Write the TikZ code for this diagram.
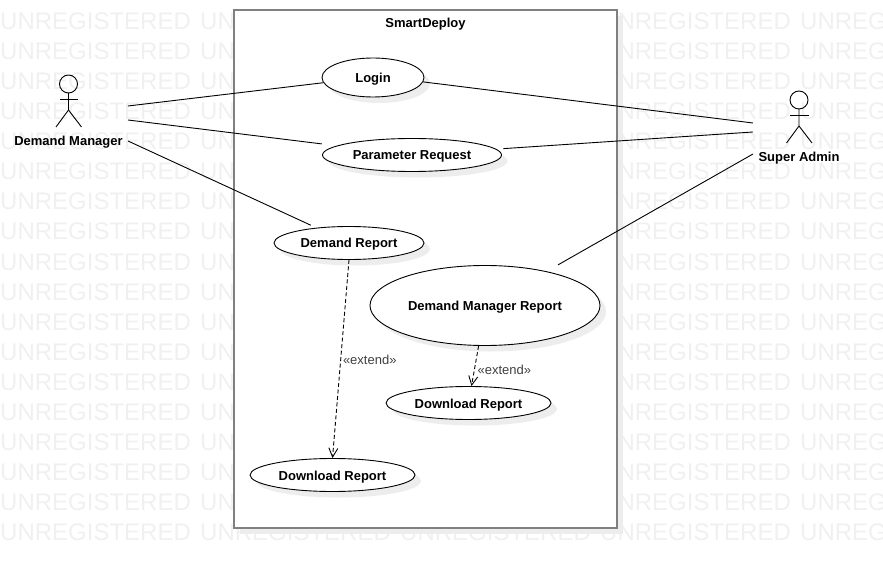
\documentclass[tikz,border=0pt]{standalone}
\usepackage{fontspec}
\setmainfont{Liberation Sans}
\usetikzlibrary{shapes.geometric,shadows,arrows.meta}

\definecolor{wmgray}{HTML}{F0F0F0}
\definecolor{shadowgray}{HTML}{EDEDED}
\definecolor{boxgray}{HTML}{808080}
\definecolor{stereogray}{HTML}{404040}

\tikzset{
  >={Straight Barb[length=9pt,width=9pt]},
  softshadow/.style={drop shadow={shadow xshift=6pt,shadow yshift=-6pt,fill=shadowgray,opacity=1}},
  watermark/.style={anchor=base west,inner sep=0pt,text=wmgray,font=\fontsize{24}{28}\selectfont},
  sysbox/.style={draw=boxgray,line width=2pt,fill=white,rectangle,softshadow,minimum width=383pt,minimum height=518pt},
  usecase/.style={draw,line width=.9pt,fill=white,ellipse,softshadow,inner sep=0pt,text height=10pt,text depth=0pt,font=\fontsize{13}{15}\selectfont\bfseries},
  actorname/.style={inner sep=0pt,text height=10pt,text depth=0pt,font=\fontsize{13}{15}\selectfont\bfseries},
  stereo/.style={inner sep=0pt,text=stereogray,text height=10pt,text depth=0pt,font=\fontsize{13}{15}\selectfont},
  assoc/.style={line width=.9pt},
  ext/.style={->,line width=.9pt,dash pattern=on 4pt off 2.5pt},
  actor/.pic={
    \draw[line width=.9pt] (0,0) circle (9);
    \draw[line width=.9pt] (0,9) -- (0,26) -- (-12.5,43);
    \draw[line width=.9pt] (0,26) -- (13,43);
    \draw[line width=.9pt] (-9,15) -- (9.5,15);
  }
}

\begin{document}
\begin{tikzpicture}[x=1pt,y=-1pt]
\useasboundingbox (0,0) rectangle (883,569);

\foreach \r in {0,...,17}
  \foreach \c in {0,...,4}
    \node[watermark] (wm\r\c) at (200*\c,30+30*\r) {UNREGISTERED};

\node[sysbox] (system) at (425.5,269) {};
\node[actorname] (title) at (425.5,23) {SmartDeploy};

\pic at (68.5,84) {actor};
\node[actorname] (manager) at (68.5,141) {Demand Manager};
\pic at (799,100) {actor};
\node[actorname] (admin) at (799,157) {Super Admin};

\coordinate (m1) at (128,106);
\coordinate (m2) at (128,120);
\coordinate (m3) at (128,141);
\coordinate (a1) at (753,123);
\coordinate (a2) at (753,132);
\coordinate (a3) at (753,154);

\node[usecase,minimum width=102pt,minimum height=39pt] (login) at (373,77.5) {Login};
\node[usecase,minimum width=179pt,minimum height=33pt] (param) at (412,155) {Parameter Request};
\node[usecase,minimum width=150pt,minimum height=33pt] (demand) at (349,243) {Demand Report};
\node[usecase,minimum width=230pt,minimum height=80pt] (dmreport) at (485,305.5) {Demand Manager Report};
\node[usecase,minimum width=165pt,minimum height=33pt] (dlright) at (468.5,403) {Download Report};
\node[usecase,minimum width=165pt,minimum height=33pt] (dlleft) at (332.5,475) {Download Report};

\draw[assoc] (m1) -- (login.186);
\draw[assoc,shorten >=15pt] (m2) -- (param.173);
\draw[assoc,shorten >=6pt] (m3) -- (demand.155);

\draw[assoc] (a1) -- (login.355);
\draw[assoc,shorten >=7pt] (a2) -- (param.4);
\draw[assoc,shorten >=13pt] (a3) -- (dmreport.29);

\draw[ext] (demand.south) -- (dlleft.north) node[stereo,pos=.5,xshift=29pt] (ext1) {«extend»};
\draw[ext] (dmreport.261) -- (dlright.80) node[stereo,pos=.6,xshift=30pt] (ext2) {«extend»};
\end{tikzpicture}
\end{document}
